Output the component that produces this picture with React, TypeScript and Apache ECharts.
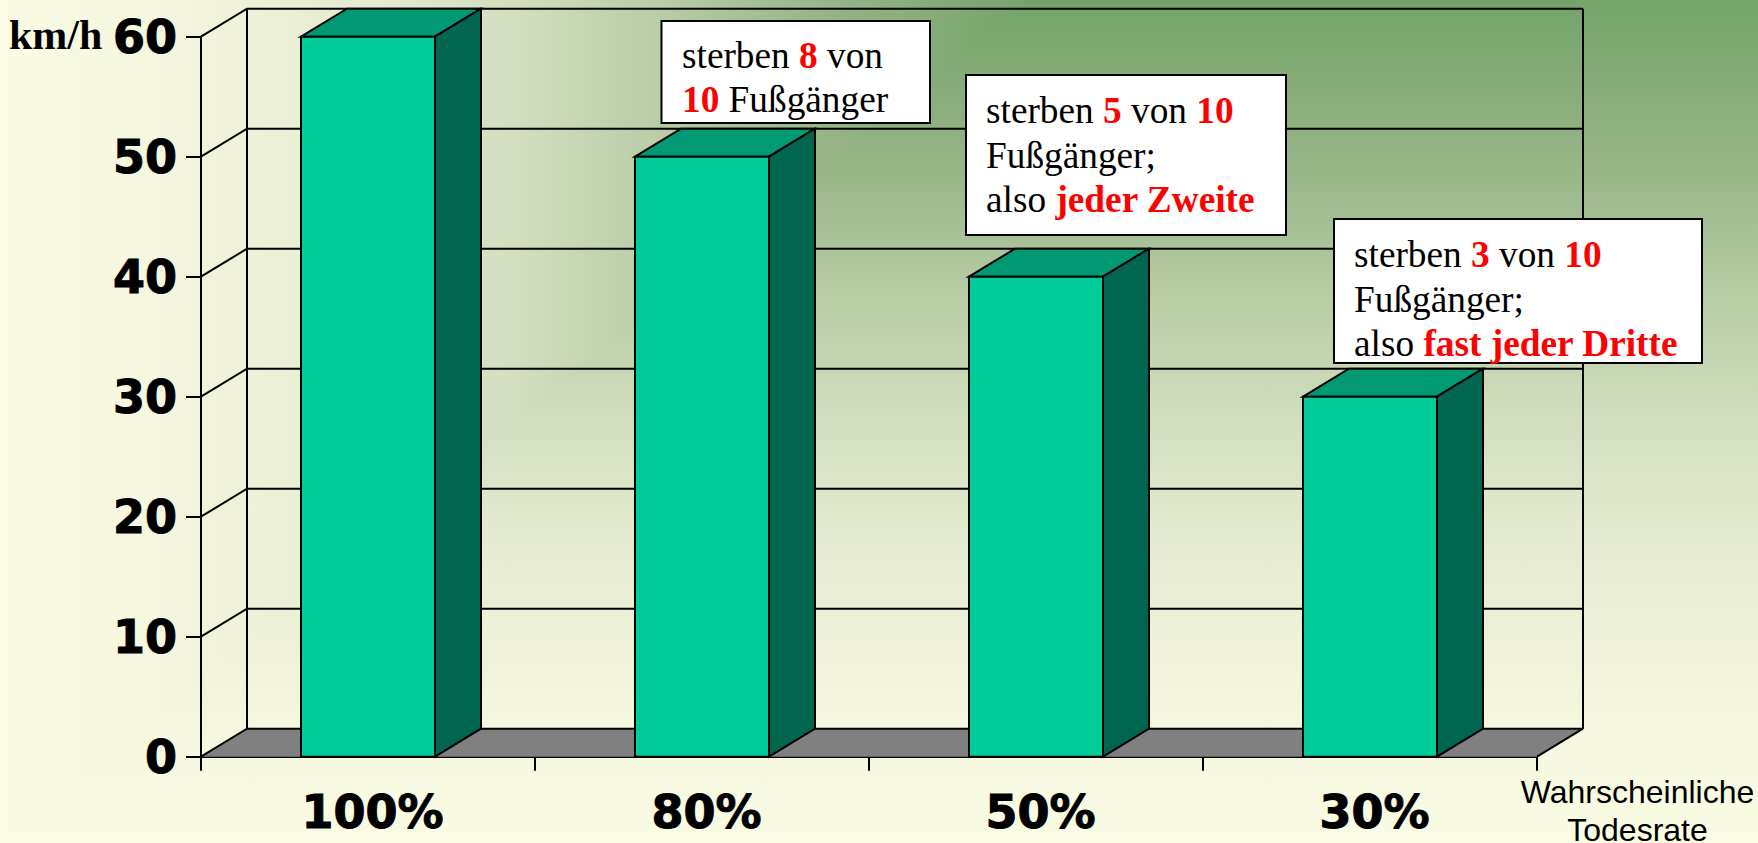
import React, { useEffect, useRef } from "react";
import * as echarts from "echarts";

const categories = ["100%", "80%", "50%", "30%"];
const speeds = [60, 50, 40, 30];
const yTicks = [0, 10, 20, 30, 40, 50, 60];
const unitLabel = "km/h";
const xAxisTitle = "Wahrscheinliche\nTodesrate";
const note1 = ["sterben {r|8} von", "{r|10} Fußgänger"];
const note2 = ["sterben {r|5} von {r|10}", "Fußgänger;", "also {r|jeder Zweite}"];
const note3 = ["sterben {r|3} von {r|10}", "Fußgänger;", "also {r|fast jeder Dritte}"];

const W = 1758, H = 843;
const DX = 46, DY = 28;
const BAR_W = 134;
const LW = 2;
const SERIF = '"Liberation Serif", serif';
const AXIS_FONT = '"DejaVu Sans", sans-serif';
const NOTE_SIZE = 37.3;

const noteGraphic = (
  lines: string[], x: number, y: number, w: number, h: number,
  textX: number, baselines: number[]
) => [
  { type: "rect", z: 50, shape: { x, y, width: w, height: h }, style: { fill: "#fff", stroke: "#000", lineWidth: LW } },
  ...lines.map((line, i) => ({
    type: "text", z: 51, x: textX, y: baselines[i] - 12,
    style: {
      text: line, fill: "#000", font: `${NOTE_SIZE}px ${SERIF}`, align: "left", verticalAlign: "middle",
      rich: { r: { fill: "#ff0000", font: `bold ${NOTE_SIZE}px ${SERIF}` } },
    },
  })),
];

const frameItem = (params: any, api: any) => {
  const v = api.value(0);
  const cs = params.coordSys;
  const x0 = cs.x, xR = cs.x + cs.width;
  const y = api.coord([0, v])[1];
  const yTop = api.coord([0, yTicks[yTicks.length - 1]])[1];
  const line = { stroke: "#000", lineWidth: LW, fill: "none" };
  const children: any[] = [];
  if (v === 0) {
    children.push({
      type: "polygon",
      shape: { points: [[x0, y], [x0 + DX, y - DY], [xR + DX, y - DY], [xR, y]] },
      style: { fill: "#808080", stroke: "none" },
    });
    children.push({ type: "line", shape: { x1: x0 + DX, y1: yTop - DY, x2: x0 + DX, y2: y - DY }, style: line });
    children.push({ type: "line", shape: { x1: xR + DX, y1: yTop - DY, x2: xR + DX, y2: y - DY }, style: line });
    children.push({ type: "line", shape: { x1: xR, y1: y, x2: xR + DX, y2: y - DY }, style: line });
  }
  children.push({
    type: "polyline",
    shape: { points: [[x0, y], [x0 + DX, y - DY], [xR + DX, y - DY]] },
    style: line,
  });
  return { type: "group", children };
};

const barItem = (_params: any, api: any) => {
  const idx = api.value(0);
  const [cx, top] = api.coord([idx, api.value(1)]);
  const [, bottom] = api.coord([idx, 0]);
  const l = cx - BAR_W / 2, r = cx + BAR_W / 2;
  const edge = { stroke: "#000", lineWidth: LW };
  return {
    type: "group",
    children: [
      { type: "polygon", shape: { points: [[l, top], [l + DX, top - DY], [r + DX, top - DY], [r, top]] }, style: { fill: "#009973", ...edge } },
      { type: "polygon", shape: { points: [[r, top], [r + DX, top - DY], [r + DX, bottom - DY], [r, bottom]] }, style: { fill: "#00664F", ...edge } },
      { type: "rect", shape: { x: l, y: top, width: BAR_W, height: bottom - top }, style: { fill: "#00CC99", ...edge } },
    ],
  };
};

const bgStops = [
  { offset: 0, color: "#74A46A" },
  { offset: 0.19, color: "#96B486" },
  { offset: 0.38, color: "#BDD0AA" },
  { offset: 0.51, color: "#D4DFC0" },
  { offset: 0.64, color: "#E5EBD0" },
  { offset: 0.77, color: "#EFF2D9" },
  { offset: 0.89, color: "#F6F8E0" },
  { offset: 1, color: "#F9FBE2" },
];

export default function App() {
  const ref = useRef<HTMLDivElement>(null);
  useEffect(() => {
    document.body.style.margin = "0";
    const chart = echarts.init(ref.current!, null, { renderer: "svg" });
    const X0 = 1030;
    const axisText = {
      color: "#000", fontFamily: AXIS_FONT, fontWeight: "bold", fontSize: 46,
      textBorderColor: "#000", textBorderWidth: 1,
    };
    chart.setOption({
      animation: false,
      backgroundColor: new echarts.graphic.LinearGradient(0, 0, 0, 1, bgStops),
      grid: { left: 201, right: W - 1537, top: 36.7, bottom: H - 756.7, containLabel: false },
      xAxis: {
        type: "category",
        data: categories,
        axisLine: { lineStyle: { color: "#000", width: LW } },
        axisTick: { show: true, length: 14, alignWithLabel: false, lineStyle: { color: "#000", width: LW } },
        axisLabel: { ...axisText, margin: 32, padding: [0, 0, 0, 9] },
        splitLine: { show: false },
      },
      yAxis: {
        type: "value",
        min: 0, max: 60, interval: 10,
        axisLine: { show: true, lineStyle: { color: "#000", width: LW } },
        axisTick: { show: true, length: 15, lineStyle: { color: "#000", width: LW } },
        axisLabel: { ...axisText, margin: 24 },
        splitLine: { show: false },
      },
      graphic: [
        {
          type: "polygon", z: -10, silent: true,
          shape: { points: [[0, 0], [X0, 0], [0, H]] },
          style: {
            fill: new echarts.graphic.LinearGradient(X0, 0, 0, 0, bgStops, true),
          },
        },
        {
          type: "text", z: 51, x: 9, y: 50 - 15,
          style: { text: unitLabel, fill: "#000", font: `bold 42px ${SERIF}`, align: "left", verticalAlign: "middle" },
        },
        {
          type: "text", z: 51, x: 1637.5, y: 773,
          style: { text: xAxisTitle, fill: "#000", font: '32px "Liberation Sans", sans-serif', align: "center", verticalAlign: "top", lineHeight: 38 },
        },
        ...noteGraphic(note1, 661.5, 21, 268.5, 102, 682, [67.5, 111]),
        ...noteGraphic(note2, 966, 75, 320, 160, 986, [122, 167, 211]),
        ...noteGraphic(note3, 1334, 219, 368, 144, 1354, [266, 311, 355]),
      ],
      series: [
        { type: "custom", z: 1, silent: true, renderItem: frameItem, data: yTicks.map((v) => [v]), encode: { y: 0 }, clip: false },
        { type: "custom", z: 2, silent: true, renderItem: barItem, data: speeds.map((v, i) => [i, v]), encode: { x: 0, y: 1 }, clip: false },
      ],
    });
    return () => chart.dispose();
  }, []);
  return <div ref={ref} style={{ position: "fixed", left: 0, top: 0, width: W, height: H }} />;
}
